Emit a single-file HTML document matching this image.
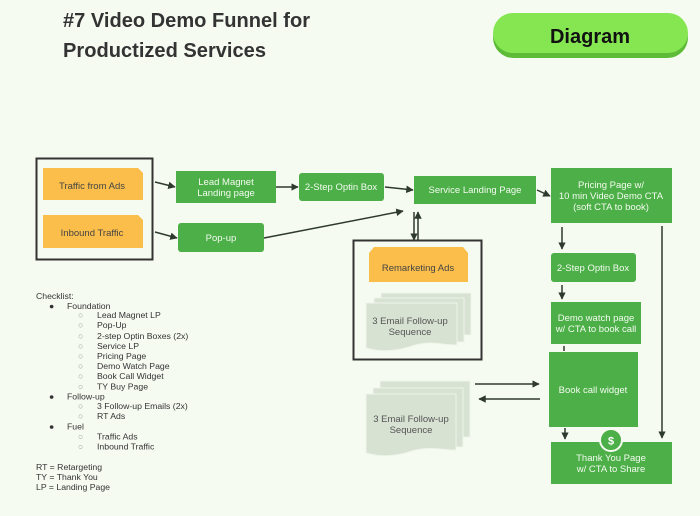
<!DOCTYPE html>
<html><head><meta charset="utf-8"><style>
html,body{margin:0;padding:0;background:#f6fbf2;}
svg{display:block;}
</style></head><body>
<svg width="700" height="516" viewBox="0 0 700 516" xmlns="http://www.w3.org/2000/svg" font-family="Liberation Sans, Arial, sans-serif">
<defs>
<marker id="ah" viewBox="0 0 10 10" refX="9" refY="5" markerWidth="5" markerHeight="5" orient="auto-start-reverse">
<path d="M0,0 L10,5 L0,10 z" fill="#2f3a2f"/>
</marker>
</defs>
<rect width="700" height="516" fill="#f6fbf2"/>

<!-- Title -->
<text x="63" y="27" font-size="20" font-weight="bold" fill="#333" textLength="247" lengthAdjust="spacingAndGlyphs">#7 Video Demo Funnel for</text>
<text x="63" y="57" font-size="20" font-weight="bold" fill="#333" textLength="203" lengthAdjust="spacingAndGlyphs">Productized Services</text>

<!-- Diagram button -->
<rect x="493" y="17" width="195" height="41" rx="20.5" fill="#5dbb38"/>
<rect x="493" y="13" width="195" height="40" rx="20" fill="#85e651"/>
<text x="590" y="43" font-size="20" font-weight="bold" fill="#111" text-anchor="middle">Diagram</text>

<!-- Left traffic box -->
<rect x="36.5" y="158.5" width="116" height="101" fill="none" stroke="#333" stroke-width="2"/>
<path d="M43,168 H138 L143,173 V200 H43 Z" fill="#fbbe4a"/>
<path d="M43,215 H138 L143,220 V248 H43 Z" fill="#fbbe4a"/>
<text x="92" y="189" font-size="9.5" fill="#444" text-anchor="middle">Traffic from Ads</text>
<text x="92" y="236" font-size="9.5" fill="#444" text-anchor="middle">Inbound Traffic</text>

<!-- Green boxes -->
<g fill="#4caf47">
<rect x="176" y="171" width="100" height="32"/>
<rect x="299" y="173" width="85" height="28" rx="3"/>
<rect x="178" y="223" width="86" height="29" rx="3"/>
<rect x="414" y="176" width="122" height="28"/>
<rect x="551" y="168" width="121" height="55"/>
<rect x="551" y="253" width="85" height="29" rx="3"/>
<rect x="551" y="302" width="90" height="42"/>
<rect x="549" y="352" width="89" height="75"/>
<rect x="551" y="442" width="121" height="42"/>
</g>
<g fill="#f4fbf1" font-size="9.5" text-anchor="middle">
<text x="226" y="185">Lead Magnet</text>
<text x="226" y="196">Landing page</text>
<text x="341" y="190">2-Step Optin Box</text>
<text x="221" y="241">Pop-up</text>
<text x="475" y="193">Service Landing Page</text>
<text x="611" y="188">Pricing Page w/</text>
<text x="611" y="199">10 min Video Demo CTA</text>
<text x="611" y="210">(soft CTA to book)</text>
<text x="593" y="271">2-Step Optin Box</text>
<text x="596" y="321">Demo watch page</text>
<text x="596" y="332">w/ CTA to book call</text>
<text x="593" y="393">Book call widget</text>
<text x="611" y="461">Thank You Page</text>
<text x="611" y="472">w/ CTA to Share</text>
</g>

<!-- $ circle -->
<circle cx="611" cy="440" r="11" fill="#4caf47" stroke="#f6fbf2" stroke-width="2"/>
<text x="611" y="444.5" font-size="11" font-weight="bold" fill="#fff" text-anchor="middle">$</text>

<!-- Remarketing box -->
<rect x="353.5" y="240.5" width="128" height="119" fill="none" stroke="#333" stroke-width="2"/>
<path d="M374,247 H463 L468,253 V282 H369 V253 Z" fill="#fbbe4a"/>
<text x="418" y="271" font-size="9.5" fill="#444" text-anchor="middle">Remarketing Ads</text>

<!-- Email stack 1 -->
<g fill="#d8e2d2" stroke="#eef4ea" stroke-width="1">
<rect x="381" y="293" width="90" height="42"/>
<rect x="374" y="298" width="90" height="44"/>
<path d="M366,303 H457 V345 C440,345 430,340 412,346 C395,352 380,352 366,348 Z"/>
</g>
<text x="410" y="324" font-size="9.5" fill="#555" text-anchor="middle">3 Email Follow-up</text>
<text x="410" y="335" font-size="9.5" fill="#555" text-anchor="middle">Sequence</text>

<!-- Email stack 2 -->
<g fill="#d8e2d2" stroke="#eef4ea" stroke-width="1">
<rect x="380" y="381" width="90" height="56"/>
<rect x="373" y="388" width="90" height="59"/>
<path d="M366,394 H456 V450 C440,450 430,446 412,451 C395,457 380,457 366,453 Z"/>
</g>
<text x="411" y="422" font-size="9.5" fill="#555" text-anchor="middle">3 Email Follow-up</text>
<text x="411" y="433" font-size="9.5" fill="#555" text-anchor="middle">Sequence</text>

<!-- Connectors -->
<g stroke="#2f3a2f" stroke-width="1.5" fill="none">
<line x1="155" y1="182" x2="175" y2="187" marker-end="url(#ah)"/>
<line x1="155" y1="232" x2="177" y2="238" marker-end="url(#ah)"/>
<line x1="276" y1="187" x2="298" y2="187" marker-end="url(#ah)"/>
<line x1="385" y1="187" x2="413" y2="190" marker-end="url(#ah)"/>
<line x1="264" y1="238" x2="403" y2="211" marker-end="url(#ah)"/>
<line x1="537" y1="190" x2="550" y2="196" marker-end="url(#ah)"/>
<line x1="414" y1="212" x2="414" y2="240" marker-end="url(#ah)"/>
<line x1="418" y1="240" x2="418" y2="212" marker-end="url(#ah)"/>
<line x1="562" y1="227" x2="562" y2="249" marker-end="url(#ah)"/>
<line x1="662" y1="226" x2="662" y2="438" marker-end="url(#ah)"/>
<line x1="562" y1="285" x2="562" y2="299" marker-end="url(#ah)"/>
<line x1="564" y1="346" x2="564" y2="351"/>
<line x1="475" y1="384" x2="539" y2="384" marker-end="url(#ah)"/>
<line x1="540" y1="399" x2="479" y2="399" marker-end="url(#ah)"/>
<line x1="565" y1="428" x2="565" y2="439" marker-end="url(#ah)"/>
</g>

<!-- Checklist -->
<g font-size="8.7" fill="#333">
<text x="36" y="299">Checklist:</text>
<text x="49" y="309">●</text><text x="67" y="309">Foundation</text>
<g fill="#999"><text x="78" y="318">○</text><text x="78" y="328">○</text><text x="78" y="339">○</text><text x="78" y="349">○</text><text x="78" y="359">○</text><text x="78" y="369">○</text><text x="78" y="379">○</text><text x="78" y="389.5">○</text></g>
<text x="97" y="318">Lead Magnet LP</text>
<text x="97" y="328">Pop-Up</text>
<text x="97" y="339">2-step Optin Boxes (2x)</text>
<text x="97" y="349">Service LP</text>
<text x="97" y="359">Pricing Page</text>
<text x="97" y="369">Demo Watch Page</text>
<text x="97" y="379">Book Call Widget</text>
<text x="97" y="389.5">TY Buy Page</text>
<text x="49" y="399.5">●</text><text x="67" y="399.5">Follow-up</text>
<g fill="#999"><text x="78" y="409">○</text><text x="78" y="419">○</text><text x="78" y="439.5">○</text><text x="78" y="449.5">○</text></g>
<text x="97" y="409">3 Follow-up Emails (2x)</text>
<text x="97" y="419">RT Ads</text>
<text x="49" y="429.5">●</text><text x="67" y="429.5">Fuel</text>
<text x="97" y="439.5">Traffic Ads</text>
<text x="97" y="449.5">Inbound Traffic</text>
<text x="36" y="470">RT = Retargeting</text>
<text x="36" y="480">TY = Thank You</text>
<text x="36" y="490">LP = Landing Page</text>
</g>
</svg>
</body></html>
